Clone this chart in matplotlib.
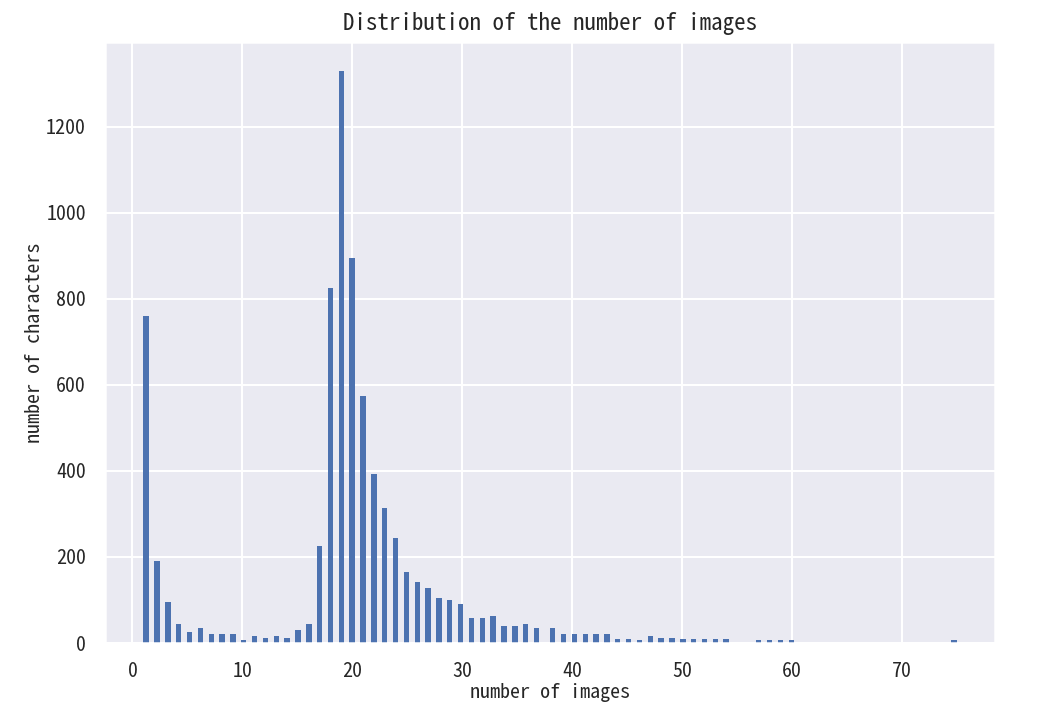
import numpy as np
import matplotlib
matplotlib.use('Agg')
import matplotlib.pyplot as plt
import seaborn as sns

sns.set_theme(style='darkgrid')
# 原图用的是SimHei，这里用等宽的CJK字体代替
plt.rcParams['font.family'] = ['Noto Sans Mono CJK SC', 'Noto Sans CJK SC', 'DejaVu Sans Mono']
plt.rcParams['axes.unicode_minus'] = False

# 每个字符对应的图片数量 -> 字符个数
num_images = list(range(1, 61)) + [75]
num_chars = [760, 190, 95, 44, 26, 35, 21, 21, 21, 7,
             16, 11, 16, 11, 30, 44, 226, 825, 1330, 895,
             575, 393, 314, 244, 165, 142, 127, 104, 100, 91,
             59, 59, 63, 40, 40, 44, 35, 35, 21, 21,
             21, 21, 21, 9, 9, 7, 16, 12, 12, 9,
             9, 9, 9, 9, 0, 0, 7, 7, 7, 7,
             7]

fig = plt.figure(figsize=(7.25, 722 / 144), dpi=144)
ax = fig.add_axes([0.1006, 0.1094, 0.8525, 0.8324])

# 直方图，150个区间
ax.hist(num_images, bins=150, weights=num_chars, range=(1, 75),
        color='#4c72b0', linewidth=0)

ax.set_title('Distribution of the number of images', fontsize=11.5)
ax.set_xlabel('number of images', fontsize=10, labelpad=1)
ax.set_ylabel('number of characters', fontsize=10, labelpad=1)
ax.tick_params(labelsize=10)
ax.set_xticks(range(0, 80, 10))
ax.set_xlim(-2.5, 78.5)

fig.savefig('out.png', dpi=144)
